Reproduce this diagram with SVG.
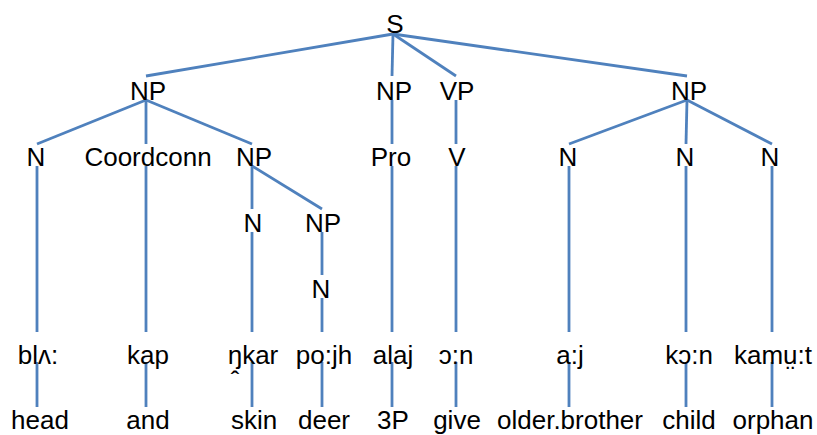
<svg xmlns="http://www.w3.org/2000/svg" width="817" height="435" viewBox="0 0 817 435">
  <style>
    .lbl { font-family: "Liberation Sans", Arial, sans-serif; font-size: 26px; fill: #000; text-anchor: middle; }
    .edge { stroke: #4F81BD; stroke-width: 2.8; fill: none; stroke-linecap: butt; }
  </style>
  <rect width="817" height="435" fill="#fff"/>

  <!-- tree branches -->
  <g id="connectors" class="edge">
    <!-- S -->
    <line x1="393" y1="34" x2="146" y2="76"/>
    <line x1="393" y1="34" x2="392" y2="76"/>
    <line x1="393" y1="34" x2="456" y2="76"/>
    <line x1="393" y1="34" x2="687" y2="76"/>
    <!-- left NP -->
    <line x1="146" y1="100" x2="37" y2="144"/>
    <line x1="146" y1="100" x2="146" y2="144"/>
    <line x1="146" y1="100" x2="252" y2="144"/>
    <!-- nested NP -->
    <line x1="252" y1="166" x2="252" y2="209"/>
    <line x1="252" y1="166" x2="322" y2="209"/>
    <line x1="322" y1="232" x2="322" y2="275"/>
    <!-- middle NP / VP -->
    <line x1="392" y1="100" x2="392" y2="144"/>
    <line x1="456" y1="100" x2="456" y2="144"/>
    <!-- right NP -->
    <line x1="687" y1="100" x2="569" y2="144"/>
    <line x1="687" y1="100" x2="686" y2="144"/>
    <line x1="687" y1="100" x2="772" y2="144"/>
    <!-- leaves: category to word form -->
    <line x1="37" y1="166" x2="37" y2="332"/>
    <line x1="146" y1="166" x2="146" y2="332"/>
    <line x1="252" y1="232" x2="252" y2="332"/>
    <line x1="322" y1="298" x2="322" y2="332"/>
    <line x1="392" y1="166" x2="392" y2="332"/>
    <line x1="456" y1="166" x2="456" y2="332"/>
    <line x1="569" y1="166" x2="569" y2="332"/>
    <line x1="686" y1="166" x2="686" y2="332"/>
    <line x1="772" y1="166" x2="772" y2="332"/>
    <!-- word form to gloss -->
    <line x1="37" y1="362" x2="37" y2="407"/>
    <line x1="146" y1="362" x2="146" y2="407"/>
    <line x1="252" y1="362" x2="252" y2="407"/>
    <line x1="322" y1="362" x2="322" y2="407"/>
    <line x1="392" y1="362" x2="392" y2="407"/>
    <line x1="456" y1="362" x2="456" y2="407"/>
    <line x1="569" y1="362" x2="569" y2="407"/>
    <line x1="686" y1="362" x2="686" y2="407"/>
    <line x1="772" y1="362" x2="772" y2="407"/>
  </g>

  <!-- phrase and category nodes -->
  <g id="n-S"><text class="lbl" x="395" y="33">S</text></g>
  <g id="n-NP1"><text class="lbl" x="148" y="100">NP</text></g>
  <g id="n-NP2"><text class="lbl" x="394" y="100">NP</text></g>
  <g id="n-VP"><text class="lbl" x="457" y="100">VP</text></g>
  <g id="n-NP3"><text class="lbl" x="689" y="100">NP</text></g>

  <g id="n-N1"><text class="lbl" x="36" y="166">N</text></g>
  <g id="n-Coord"><text class="lbl" x="148" y="166">Coordconn</text></g>
  <g id="n-NP4"><text class="lbl" x="254" y="166">NP</text></g>
  <g id="n-Pro"><text class="lbl" x="391" y="166">Pro</text></g>
  <g id="n-V"><text class="lbl" x="457" y="166">V</text></g>
  <g id="n-N2"><text class="lbl" x="568" y="166">N</text></g>
  <g id="n-N3"><text class="lbl" x="685" y="166">N</text></g>
  <g id="n-N4"><text class="lbl" x="770" y="166">N</text></g>

  <g id="n-N5"><text class="lbl" x="253" y="232">N</text></g>
  <g id="n-NP5"><text class="lbl" x="323" y="232">NP</text></g>
  <g id="n-N6"><text class="lbl" x="321" y="298">N</text></g>

  <!-- word forms -->
  <g id="w-bla"><text class="lbl" x="38" y="364">blʌ:</text></g>
  <g id="w-kap"><text class="lbl" x="148" y="364">kap</text></g>
  <g id="w-nkar"><text class="lbl" x="253" y="364">ŋ̭kar</text></g>
  <g id="w-pojh"><text class="lbl" x="324" y="364">po:jh</text></g>
  <g id="w-alaj"><text class="lbl" x="393" y="364">alaj</text></g>
  <g id="w-on"><text class="lbl" x="456" y="364">ɔ:n</text></g>
  <g id="w-aj"><text class="lbl" x="570" y="364">a:j</text></g>
  <g id="w-kon"><text class="lbl" x="689" y="364">kɔ:n</text></g>
  <g id="w-kamut"><text class="lbl" x="773" y="364">kamṳ:t</text></g>

  <!-- glosses -->
  <g id="g-head"><text class="lbl" x="40" y="429">head</text></g>
  <g id="g-and"><text class="lbl" x="148" y="429">and</text></g>
  <g id="g-skin"><text class="lbl" x="254" y="429">skin</text></g>
  <g id="g-deer"><text class="lbl" x="324" y="429">deer</text></g>
  <g id="g-3P"><text class="lbl" x="393" y="429">3P</text></g>
  <g id="g-give"><text class="lbl" x="457" y="429">give</text></g>
  <g id="g-older"><text class="lbl" x="570" y="429">older.brother</text></g>
  <g id="g-child"><text class="lbl" x="689" y="429">child</text></g>
  <g id="g-orphan"><text class="lbl" x="773" y="429">orphan</text></g>
</svg>
